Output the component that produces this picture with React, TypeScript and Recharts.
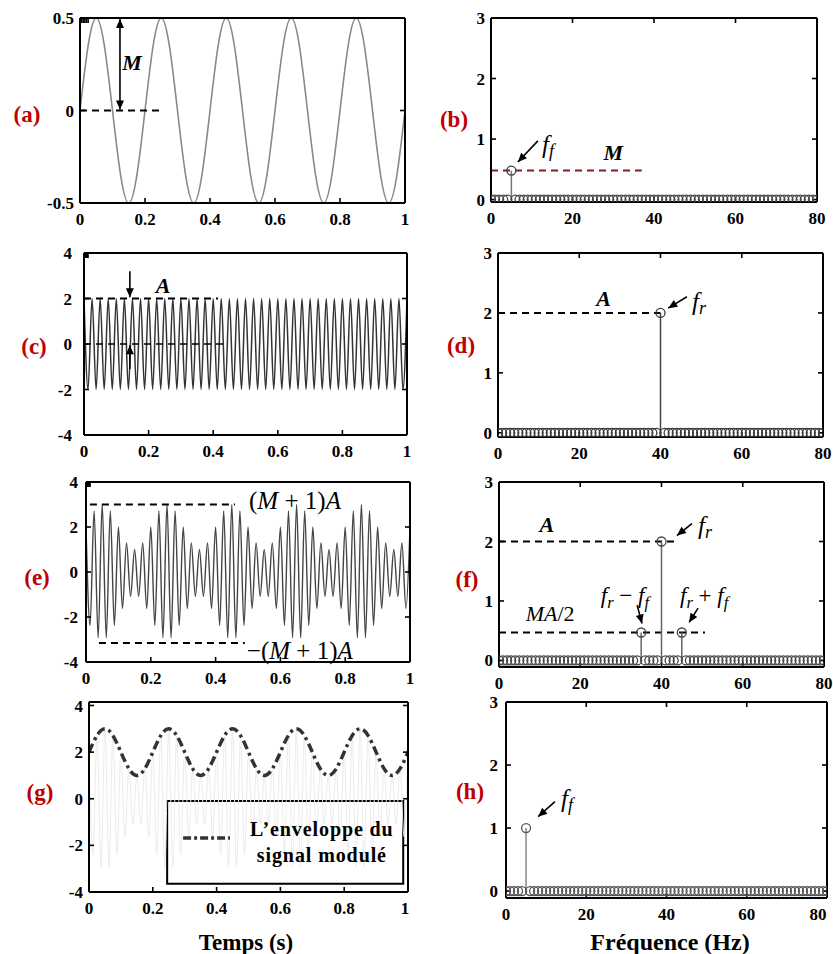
import React from 'react';
import {
  ComposedChart,
  Line,
  Scatter,
  XAxis,
  YAxis,
  ReferenceLine,
  ReferenceDot,
  ReferenceArea,
} from 'recharts';

// ---------- data ----------
const T81 = [
  0, 0.0125, 0.025, 0.0375, 0.05, 0.0625, 0.075, 0.0875,
  0.1, 0.1125, 0.125, 0.1375, 0.15, 0.1625, 0.175, 0.1875,
  0.2, 0.2125, 0.225, 0.2375, 0.25, 0.2625, 0.275, 0.2875,
  0.3, 0.3125, 0.325, 0.3375, 0.35, 0.3625, 0.375, 0.3875,
  0.4, 0.4125, 0.425, 0.4375, 0.45, 0.4625, 0.475, 0.4875,
  0.5, 0.5125, 0.525, 0.5375, 0.55, 0.5625, 0.575, 0.5875,
  0.6, 0.6125, 0.625, 0.6375, 0.65, 0.6625, 0.675, 0.6875,
  0.7, 0.7125, 0.725, 0.7375, 0.75, 0.7625, 0.775, 0.7875,
  0.8, 0.8125, 0.825, 0.8375, 0.85, 0.8625, 0.875, 0.8875,
  0.9, 0.9125, 0.925, 0.9375, 0.95, 0.9625, 0.975, 0.9875,
  1,
];
const T41 = [
  0, 0.025, 0.05, 0.075, 0.1, 0.125, 0.15, 0.175,
  0.2, 0.225, 0.25, 0.275, 0.3, 0.325, 0.35, 0.375,
  0.4, 0.425, 0.45, 0.475, 0.5, 0.525, 0.55, 0.575,
  0.6, 0.625, 0.65, 0.675, 0.7, 0.725, 0.75, 0.775,
  0.8, 0.825, 0.85, 0.875, 0.9, 0.925, 0.95, 0.975,
  1,
];
// (a) modulating signal, sampled on T41
const modSignal = [
  0, 0.35, 0.5, 0.35, 0, -0.35, -0.5, -0.35,
  0, 0.35, 0.5, 0.35, 0, -0.35, -0.5, -0.35,
  0, 0.35, 0.5, 0.35, 0, -0.35, -0.5, -0.35,
  0, 0.35, 0.5, 0.35, 0, -0.35, -0.5, -0.35,
  0, 0.35, 0.5, 0.35, 0, -0.35, -0.5, -0.35,
  0,
];
// (c) carrier extrema, sampled on T81
const carrier = [
  2, -2, 2, -2, 2, -2, 2, -2, 2, -2, 2, -2, 2, -2, 2, -2,
  2, -2, 2, -2, 2, -2, 2, -2, 2, -2, 2, -2, 2, -2, 2, -2,
  2, -2, 2, -2, 2, -2, 2, -2, 2, -2, 2, -2, 2, -2, 2, -2,
  2, -2, 2, -2, 2, -2, 2, -2, 2, -2, 2, -2, 2, -2, 2, -2,
  2, -2, 2, -2, 2, -2, 2, -2, 2, -2, 2, -2, 2, -2, 2, -2,
  2,
];
// (e) modulated signal extrema, sampled on T81
const amSignal = [
  2, -2.38, 2.71, -2.92, 3, -2.92, 2.71, -2.38, 2, -1.62, 1.29, -1.08, 1, -1.08, 1.29, -1.62,
  2, -2.38, 2.71, -2.92, 3, -2.92, 2.71, -2.38, 2, -1.62, 1.29, -1.08, 1, -1.08, 1.29, -1.62,
  2, -2.38, 2.71, -2.92, 3, -2.92, 2.71, -2.38, 2, -1.62, 1.29, -1.08, 1, -1.08, 1.29, -1.62,
  2, -2.38, 2.71, -2.92, 3, -2.92, 2.71, -2.38, 2, -1.62, 1.29, -1.08, 1, -1.08, 1.29, -1.62,
  2, -2.38, 2.71, -2.92, 3, -2.92, 2.71, -2.38, 2, -1.62, 1.29, -1.08, 1, -1.08, 1.29, -1.62,
  2,
];
// (g) envelope, sampled on T41
const envelope = [
  2, 2.71, 3, 2.71, 2, 1.29, 1, 1.29,
  2, 2.71, 3, 2.71, 2, 1.29, 1, 1.29,
  2, 2.71, 3, 2.71, 2, 1.29, 1, 1.29,
  2, 2.71, 3, 2.71, 2, 1.29, 1, 1.29,
  2, 2.71, 3, 2.71, 2, 1.29, 1, 1.29,
  2,
];
const freqs = [
  0, 1, 2, 3, 4, 5, 6, 7, 8, 9, 10, 11, 12, 13, 14, 15, 16, 17, 18, 19,
  20, 21, 22, 23, 24, 25, 26, 27, 28, 29, 30, 31, 32, 33, 34, 35, 36, 37, 38, 39,
  40, 41, 42, 43, 44, 45, 46, 47, 48, 49, 50, 51, 52, 53, 54, 55, 56, 57, 58, 59,
  60, 61, 62, 63, 64, 65, 66, 67, 68, 69, 70, 71, 72, 73, 74, 75, 76, 77, 78, 79,
  80,
];
const baseLevel = 0;
const peakFreqB = [5];
const peakAmpB = [0.48];
const peakFreqD = [40];
const peakAmpD = [2];
const peakFreqF = [35, 40, 45];
const peakAmpF = [0.47, 2, 0.47];
const peakFreqH = [5];
const peakAmpH = [1];

const timeTicks = [0, 0.2, 0.4, 0.6, 0.8, 1];
const freqTicks = [0, 20, 40, 60, 80];
const ticksA = [-0.5, 0, 0.5];
const ticksSig = [-4, -2, 0, 2, 4];
const ticksSpec = [0, 1, 2, 3];

const dataA = T41.map((t, i) => ({ t, v: modSignal[i] }));
const dataC = T81.map((t, i) => ({ t, v: carrier[i] }));
const dataE = T81.map((t, i) => ({ t, v: amSignal[i] }));
const dataEnv = T41.map((t, i) => ({ t, v: envelope[i] }));
const spec = (pf: number[], pa: number[]) =>
  freqs.map((f) => ({ f, a: pf.includes(f) ? pa[pf.indexOf(f)] : baseLevel }));
const dataB = spec(peakFreqB, peakAmpB);
const dataD = spec(peakFreqD, peakAmpD);
const dataF = spec(peakFreqF, peakAmpF);
const dataH = spec(peakFreqH, peakAmpH);

// ---------- styles ----------
const serif = "'Liberation Serif', 'Times New Roman', serif";
const tickStyle = { fontFamily: serif, fontWeight: 700, fontSize: 17, fill: '#000' };
const axisLineStyle = { stroke: '#000', strokeWidth: 2 };
const tickLineStyle = { stroke: '#000', strokeWidth: 1.6 };
const DASH = '7 5';
const TS = -5; // inward tick marks

const noLabel = () => <g />;

function xTickRenderer(lastShift: number) {
  return (p: any) => {
    const { x, y, payload, index, visibleTicksCount } = p;
    const isLast = index === (visibleTicksCount ?? 0) - 1;
    const xx = isLast ? x - lastShift : x;
    return (
      <text x={xx} y={y} dy="0.71em" textAnchor="middle" {...tickStyle}>
        {payload.value}
      </text>
    );
  };
}

function frame(
  xKey: string,
  xDomain: number[],
  xTicks: number[],
  yDomain: number[],
  yTicks: number[],
  yGap = 6,
  lastShift = 0
) {
  return [
    <XAxis key="xb" xAxisId={0} dataKey={xKey} type="number" domain={xDomain} ticks={xTicks}
      allowDataOverflow interval={0} tickLine={tickLineStyle} tickSize={TS} tickMargin={15}
      axisLine={axisLineStyle} tick={xTickRenderer(lastShift)} height={30} />,
    <XAxis key="xt" xAxisId="xt" orientation="top" type="number" domain={xDomain}
      ticks={xTicks} allowDataOverflow interval={0} tick={noLabel} tickSize={TS}
      tickLine={tickLineStyle} axisLine={axisLineStyle} height={1} />,
    <YAxis key="yl" yAxisId={0} type="number" domain={yDomain} ticks={yTicks} allowDataOverflow
      interval={0} tickLine={tickLineStyle} tickSize={TS} tickMargin={yGap + 5}
      axisLine={axisLineStyle} tick={tickStyle} width={60} />,
    <YAxis key="yr" yAxisId="yr" orientation="right" type="number" domain={yDomain}
      ticks={yTicks} allowDataOverflow interval={0} tick={noLabel} tickSize={TS}
      tickLine={tickLineStyle} axisLine={axisLineStyle} width={1} />,
  ];
}

function arrowShape(both = false, color = '#000') {
  return (p: any) => {
    const { x1, y1, x2, y2 } = p;
    const head = (xa: number, ya: number, xb: number, yb: number) => {
      const dx = xb - xa;
      const dy = yb - ya;
      const L = Math.hypot(dx, dy) || 1;
      const ux = dx / L;
      const uy = dy / L;
      const len = 9;
      const w = 4;
      const bx = xb - ux * len;
      const by = yb - uy * len;
      return `${xb},${yb} ${bx - uy * w},${by + ux * w} ${bx + uy * w},${by - ux * w}`;
    };
    return (
      <g>
        <line x1={x1} y1={y1} x2={x2} y2={y2} stroke={color} strokeWidth={1.6} />
        <polygon points={head(x1, y1, x2, y2)} fill={color} />
        {both && <polygon points={head(x2, y2, x1, y1)} fill={color} />}
      </g>
    );
  };
}

type Part = { t: string; i?: boolean; sub?: boolean };
function mathLabel(
  parts: Part[],
  size = 20,
  weight = 400,
  anchor: 'start' | 'middle' | 'end' = 'middle',
  spacing = 0
) {
  return (props: any) => {
    const vb = props.viewBox || {};
    const x = (vb.x || 0) + (vb.width || 0) / 2;
    const y = (vb.y || 0) + (vb.height || 0) / 2;
    let shifted = false;
    return (
      <text x={x} y={y} textAnchor={anchor} dominantBaseline="central" fontFamily={serif}
        fontSize={size} fontWeight={weight} fill="#000" letterSpacing={spacing}>
        {parts.map((p, k) => {
          const dy = p.sub ? (shifted ? 0 : size * 0.3) : shifted ? -size * 0.3 : 0;
          shifted = !!p.sub;
          return (
            <tspan key={k} fontStyle={p.i ? 'italic' : 'normal'} fontSize={p.sub ? size * 0.72 : size} dy={dy}>
              {p.t}
            </tspan>
          );
        })}
      </text>
    );
  };
}

const ring = (color: string, r = 4.5, w = 1.3) => (p: any) =>
  <circle cx={p.cx} cy={p.cy} r={r} fill="none" stroke={color} strokeWidth={w} />;

const seg = (key: string, a: [number, number], b: [number, number], opts: any = {}) => (
  <ReferenceLine key={key} ifOverflow="visible"
    segment={[{ x: a[0], y: a[1] }, { x: b[0], y: b[1] }]}
    stroke={opts.color || '#000'} strokeWidth={opts.w || 2}
    strokeDasharray={opts.dash} shape={opts.shape} />
);

const note = (
  key: string,
  x: number,
  y: number,
  parts: Part[],
  size = 20,
  weight = 400,
  spacing = 0
) => (
  <ReferenceDot key={key} x={x} y={y} r={0} fill="none" stroke="none" ifOverflow="visible"
    label={mathLabel(parts, size, weight, 'middle', spacing)} />
);

type Box = { l: number; t: number; w: number; h: number };
const YW = 60;
const MT = 10;
const MR = 18;
const XH = 30;
function Panel({ box, data, children }: { box: Box; data?: any[]; children: any }) {
  return (
    <div style={{ position: 'absolute', left: box.l - YW, top: box.t - MT }}>
      <ComposedChart width={YW + box.w + MR} height={MT + box.h + XH} data={data}
        margin={{ top: MT - 1, right: MR - 1, bottom: 0, left: 0 }}>
        {children}
      </ComposedChart>
    </div>
  );
}

function stems(pf: number[], pa: number[], color: string) {
  return pf.map((f, i) => seg(`stem${i}`, [f, baseLevel], [f, pa[i]], { color, w: 1.5 }));
}

const letterStyle: React.CSSProperties = {
  position: 'absolute',
  transform: 'translate(-50%, -50%)',
  fontFamily: serif,
  fontWeight: 700,
  fontSize: 23,
  color: '#c00000',
  whiteSpace: 'nowrap',
};
const titleStyle: React.CSSProperties = {
  position: 'absolute',
  transform: 'translate(-50%, -50%)',
  fontFamily: serif,
  fontWeight: 700,
  fontSize: 23,
  color: '#000',
  whiteSpace: 'nowrap',
};

const boxA: Box = { l: 80, t: 18, w: 325, h: 185 };
const boxB: Box = { l: 491, t: 18, w: 326, h: 184 };
const boxC: Box = { l: 84, t: 253, w: 323, h: 182 };
const boxD: Box = { l: 498, t: 253, w: 325, h: 184 };
const boxE: Box = { l: 86, t: 482, w: 324, h: 180 };
const boxF: Box = { l: 499, t: 482, w: 325, h: 185 };
const boxG: Box = { l: 89, t: 702, w: 319, h: 190 };
const boxH: Box = { l: 506, t: 702, w: 321, h: 196 };

const letters = [
  { t: '(a)', x: 27, y: 115 },
  { t: '(b)', x: 454, y: 120 },
  { t: '(c)', x: 34, y: 347 },
  { t: '(d)', x: 461, y: 346 },
  { t: '(e)', x: 37, y: 578 },
  { t: '(f)', x: 467, y: 580 },
  { t: '(g)', x: 40, y: 793 },
  { t: '(h)', x: 470, y: 792 },
];

export default function App() {
  const ff: Part[] = [{ t: 'f', i: true }, { t: 'f', i: true, sub: true }];
  const fr: Part[] = [{ t: 'f', i: true }, { t: 'r', i: true, sub: true }];
  return (
    <div style={{ position: 'absolute', left: 0, top: 0, width: 833, height: 954, background: '#fff', overflow: 'hidden' }}>
      {/* (a) */}
      <Panel box={boxA} data={dataA}>
        {frame('t', [0, 1], timeTicks, [-0.5, 0.5], ticksA)}
        <Line dataKey="v" type="natural" stroke="#8c8686" strokeWidth={1.6} dot={false} isAnimationActive={false} />
        {seg('a1', [0, 0.5], [0.245, 0.5], { dash: DASH })}
        {seg('a2', [0, 0], [0.245, 0], { dash: DASH })}
        {seg('a3', [0.123, 0.495], [0.123, 0.005], { w: 1.6, shape: arrowShape(true) })}
        {note('aM', 0.16, 0.26, [{ t: 'M', i: true }], 22, 700)}
      </Panel>

      {/* (b) */}
      <Panel box={boxB} data={dataB}>
        {frame('f', [0, 80], freqTicks, [-0.04, 3], ticksSpec)}
        {seg('b1', [0, 0.48], [37, 0.48], { dash: DASH, color: '#7d2222' })}
        {stems(peakFreqB, peakAmpB, '#777')}
        <Scatter data={dataB} dataKey="a" shape={ring('#444')} isAnimationActive={false} />
        {note('bM', 30, 0.79, [{ t: 'M', i: true }], 22, 700)}
        {note('bf', 14, 0.92, ff, 25)}
        {seg('b2', [11.5, 0.97], [6.6, 0.62], { w: 1.6, shape: arrowShape(false) })}
      </Panel>

      {/* (c) */}
      <Panel box={boxC} data={dataC}>
        {frame('t', [0, 1], timeTicks, [-4, 4], ticksSig, 12)}
        <Line dataKey="v" type="monotone" stroke="#333" strokeWidth={1.5} dot={false} isAnimationActive={false} />
        {seg('c1', [0, 2], [0.415, 2], { dash: DASH })}
        {seg('c2', [0, 0], [0.44, 0], { dash: DASH, w: 1.6 })}
        {seg('c3', [0.142, 3.2], [0.142, 2.05], { w: 1.6, shape: arrowShape(false) })}
        {seg('c4', [0.142, -1.1], [0.142, -0.05], { w: 1.6, shape: arrowShape(false) })}
        {note('cA', 0.245, 2.6, [{ t: 'A', i: true }], 22, 700)}
      </Panel>

      {/* (d) */}
      <Panel box={boxD} data={dataD}>
        {frame('f', [0, 80], freqTicks, [-0.07, 3], ticksSpec)}
        {seg('d1', [0, 2], [40, 2], { dash: DASH })}
        {stems(peakFreqD, peakAmpD, '#444')}
        <Scatter data={dataD} dataKey="a" shape={ring('#3a3a3a')} isAnimationActive={false} />
        {note('dA', 26, 2.25, [{ t: 'A', i: true }], 22, 700)}
        {note('df', 49.5, 2.2, fr, 25)}
        {seg('d2', [46.5, 2.27], [41.9, 2.08], { w: 1.6, shape: arrowShape(false) })}
      </Panel>

      {/* (e) */}
      <Panel box={boxE} data={dataE}>
        {frame('t', [0, 1], timeTicks, [-4, 4], ticksSig, 8)}
        <Line dataKey="v" type="monotone" stroke="#444" strokeWidth={1.4} dot={false} isAnimationActive={false} />
        {seg('e1', [0.012, 3], [0.46, 3], { dash: DASH })}
        {seg('e2', [0.04, -3.15], [0.49, -3.15], { dash: DASH })}
        {note('eL1', 0.645, 3.2, [{ t: '(' }, { t: 'M', i: true }, { t: ' + 1)' }, { t: 'A', i: true }], 25)}
        {note('eL2', 0.66, -3.45, [{ t: '−(' }, { t: 'M', i: true }, { t: ' + 1)' }, { t: 'A', i: true }], 25)}
      </Panel>

      {/* (f) */}
      <Panel box={boxF} data={dataF}>
        {frame('f', [0, 80], freqTicks, [-0.11, 3], ticksSpec)}
        {seg('f1', [0, 2], [43.3, 2], { dash: DASH })}
        {seg('f2', [0, 0.47], [50.7, 0.47], { dash: DASH })}
        {stems(peakFreqF, peakAmpF, '#666')}
        <Scatter data={dataF} dataKey="a" shape={ring('#444')} isAnimationActive={false} />
        {note('fA', 11.8, 2.3, [{ t: 'A', i: true }], 22, 700)}
        {note('ffr', 50.7, 2.28, fr, 25)}
        {seg('f3', [47.5, 2.3], [43.8, 2.1], { w: 1.6, shape: arrowShape(false) })}
        {note('fMA', 12.6, 0.8, [{ t: 'MA', i: true }, { t: '/2' }], 22)}
        {note('fm', 31, 1.1, [{ t: 'f', i: true }, { t: 'r', i: true, sub: true }, { t: ' − ' }, { t: 'f', i: true }, { t: 'f', i: true, sub: true }], 23)}
        {seg('f4', [34, 0.93], [35.2, 0.62], { w: 1.6, shape: arrowShape(false) })}
        {note('fp', 50.5, 1.1, [{ t: 'f', i: true }, { t: 'r', i: true, sub: true }, { t: ' + ' }, { t: 'f', i: true }, { t: 'f', i: true, sub: true }], 23)}
        {seg('f5', [49, 0.88], [46.8, 0.64], { w: 1.6, shape: arrowShape(false) })}
      </Panel>

      {/* (g) */}
      <Panel box={boxG}>
        {frame('t', [0, 1], timeTicks, [-4, 4.15], ticksSig, 6, 3)}
        <Line data={dataE} dataKey="v" type="monotone" stroke="#ececec" strokeWidth={1} dot={false} isAnimationActive={false} />
        <Line data={dataEnv} dataKey="v" type="natural" stroke="#333" strokeWidth={3.5} strokeDasharray="9 4 3 4" dot={false} isAnimationActive={false} />
        <ReferenceArea x1={0.245} x2={0.985} y1={-3.65} y2={-0.1} fill="#fff" fillOpacity={1} stroke="#000" strokeWidth={2} ifOverflow="visible" />
        {seg('gs', [0.295, -1.68], [0.442, -1.68], { w: 3.5, dash: '8 3 3 3', color: '#333' })}
        {note('gt1', 0.73, -1.28, [{ t: 'L’enveloppe du' }], 20, 700, 0.9)}
        {note('gt2', 0.73, -2.4, [{ t: 'signal modulé' }], 20, 700, 0.9)}
      </Panel>

      {/* (h) */}
      <Panel box={boxH} data={dataH}>
        {frame('f', [0, 80], freqTicks, [-0.11, 3], ticksSpec, 8, 9)}
        {stems(peakFreqH, peakAmpH, '#888')}
        <Scatter data={dataH} dataKey="a" shape={ring('#555')} isAnimationActive={false} />
        {note('hf', 15.2, 1.48, ff, 25)}
        {seg('h1', [12.2, 1.42], [8, 1.18], { w: 1.6, shape: arrowShape(false) })}
      </Panel>

      {letters.map((l) => (
        <div key={l.t} style={{ ...letterStyle, left: l.x, top: l.y }}>{l.t}</div>
      ))}
      <div style={{ ...titleStyle, left: 246, top: 943 }}>Temps (s)</div>
      <div style={{ ...titleStyle, left: 670, top: 942, fontSize: 24 }}>Fréquence (Hz)</div>
    </div>
  );
}
